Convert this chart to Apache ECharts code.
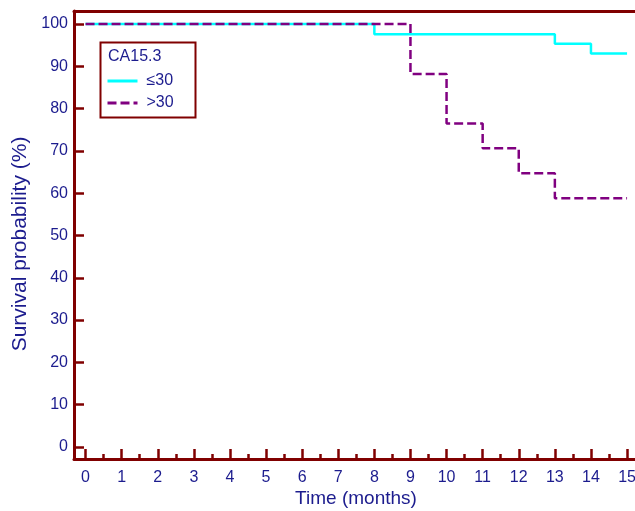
<!DOCTYPE html>
<html>
<head>
<meta charset="utf-8">
<script src="https://cdn.jsdelivr.net/npm/echarts@6/dist/echarts.min.js"></script>
<style>html,body{margin:0;padding:0;background:#fff}#c{width:635px;height:511px}</style>
</head>
<body>
<div id="c"></div>
<script>
// Data
const legendTitle = 'CA15.3';
const groupNames = ['≤30', '>30'];
const timesLow = [0, 8, 13, 14, 15];
const survLow = [100, 97.6, 95.3, 93.0, 93.0];
const timesHigh = [0, 9, 10, 11, 12, 13, 15];
const survHigh = [100, 88.2, 76.5, 70.6, 64.7, 58.8, 58.8];
const xTicks = [0,1,2,3,4,5,6,7,8,9,10,11,12,13,14,15];
const xMinorTicks = [0.5,1.5,2.5,3.5,4.5,5.5,6.5,7.5,8.5,9.5,10.5,11.5,12.5,13.5,14.5];
const yTicks = [0,10,20,30,40,50,60,70,80,90,100];
const xTitle = 'Time (months)';
const yTitle = 'Survival probability (%)';

const axisRed = '#800000';
const navy = '#1c1c8e';
const font = '"Liberation Sans", Arial, sans-serif';
const X_MIN = -0.32, X_MAX = 15.22;

const chart = echarts.init(document.getElementById('c'));
const pairs = (xs, ys) => xs.map((x, i) => [x, ys[i]]);

chart.setOption({
  animation: false,
  backgroundColor: '#fff',
  textStyle: { fontFamily: font },
  grid: { left: 74, top: 11, right: 0, bottom: 52, show: false, outerBoundsMode: 'none', containLabel: false },
  xAxis: [{
    type: 'value', min: X_MIN, max: X_MAX, position: 'bottom',
    axisLine: { show: true, onZero: false, lineStyle: { color: axisRed, width: 3 } },
    axisTick: { show: true, inside: true, length: 10, customValues: xTicks, lineStyle: { color: axisRed, width: 2.5 } },
    axisLabel: { customValues: xTicks, color: navy, fontSize: 16, margin: 11, fontFamily: font },
    splitLine: { show: false }
  }, {
    type: 'value', min: X_MIN, max: X_MAX, position: 'bottom',
    axisLine: { show: false, onZero: false },
    axisTick: { show: true, inside: true, length: 5, customValues: xMinorTicks, lineStyle: { color: axisRed, width: 2.5 } },
    axisLabel: { show: false },
    splitLine: { show: false }
  }, {
    type: 'value', min: X_MIN, max: X_MAX, position: 'top',
    axisLine: { show: true, onZero: false, lineStyle: { color: axisRed, width: 3 } },
    axisTick: { show: false },
    axisLabel: { show: false },
    splitLine: { show: false }
  }],
  yAxis: {
    type: 'value', min: -2.84, max: 103.07,
    axisLine: { show: true, onZero: false, lineStyle: { color: axisRed, width: 3 } },
    axisTick: { show: true, inside: true, length: 10, customValues: yTicks, lineStyle: { color: axisRed, width: 2.5 } },
    axisLabel: { customValues: yTicks, color: navy, fontSize: 16, margin: 6, fontFamily: font },
    splitLine: { show: false }
  },
  legend: {
    left: 101, top: 68, orient: 'vertical', itemWidth: 30, itemHeight: 14, itemGap: 6,
    itemStyle: { opacity: 0 },
    lineStyle: { width: 3 },
    textStyle: { color: navy, fontSize: 16, fontFamily: font, padding: [0, 0, 0, 4] },
    data: groupNames
  },
  graphic: [
    { type: 'rect', left: 98, top: 40, shape: { width: 95, height: 75 }, style: { fill: 'none', stroke: axisRed, lineWidth: 2 } },
    { type: 'text', x: 108, y: 57, style: { text: legendTitle, fill: navy, font: '16px ' + font, verticalAlign: 'middle' } },
    { type: 'text', x: 356, y: 499, style: { text: xTitle, fill: navy, font: '19px ' + font, align: 'center', verticalAlign: 'middle' } },
    { type: 'text', x: 20, y: 244, rotation: Math.PI / 2, style: { text: yTitle, fill: navy, font: '21px ' + font, align: 'center', verticalAlign: 'middle' } }
  ],
  series: [{
    name: groupNames[0], type: 'line', step: 'end', symbol: 'none', xAxisIndex: 0,
    data: pairs(timesLow, survLow),
    itemStyle: { color: '#00ffff' },
    lineStyle: { color: '#00ffff', width: 2.5 }
  }, {
    name: groupNames[1], type: 'line', step: 'end', symbol: 'none', xAxisIndex: 0,
    data: pairs(timesHigh, survHigh),
    itemStyle: { color: '#800080' },
    lineStyle: { color: '#800080', width: 2.5, type: [9, 4] }
  }]
});
</script>
</body>
</html>
